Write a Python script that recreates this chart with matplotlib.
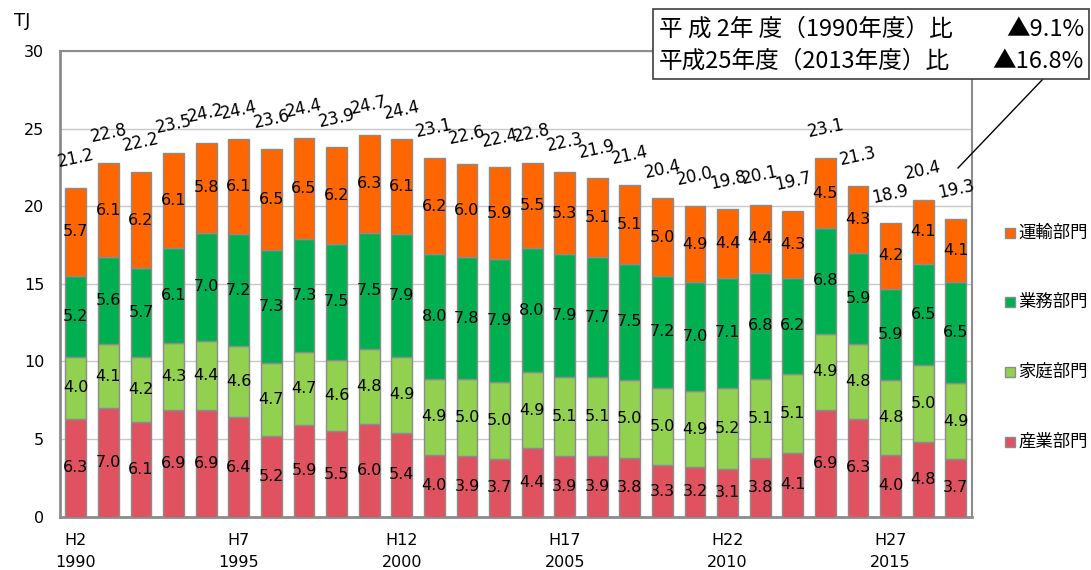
import matplotlib
matplotlib.use("Agg")
import matplotlib.pyplot as plt
import numpy as np

plt.rcParams['font.family'] = ['Noto Sans CJK JP', 'DejaVu Sans']

years = list(range(1990, 2018))
tick_heisei = ["H2", "H7", "H12", "H17", "H22", "H27"]
tick_years = ["1990", "1995", "2000", "2005", "2010", "2015"]

industry = [6.3, 7.0, 6.1, 6.9, 6.9, 6.4, 5.2, 5.9, 5.5, 6.0, 5.4, 4.0, 3.9, 3.7, 4.4, 3.9, 3.9, 3.8, 3.3, 3.2, 3.1, 3.8, 4.1, 6.9, 6.3, 4.0, 4.8, 3.7]
household = [4.0, 4.1, 4.2, 4.3, 4.4, 4.6, 4.7, 4.7, 4.6, 4.8, 4.9, 4.9, 5.0, 5.0, 4.9, 5.1, 5.1, 5.0, 5.0, 4.9, 5.2, 5.1, 5.1, 4.9, 4.8, 4.8, 5.0, 4.9]
business = [5.2, 5.6, 5.7, 6.1, 7.0, 7.2, 7.3, 7.3, 7.5, 7.5, 7.9, 8.0, 7.8, 7.9, 8.0, 7.9, 7.7, 7.5, 7.2, 7.0, 7.1, 6.8, 6.2, 6.8, 5.9, 5.9, 6.5, 6.5]
transport = [5.7, 6.1, 6.2, 6.1, 5.8, 6.1, 6.5, 6.5, 6.2, 6.3, 6.1, 6.2, 6.0, 5.9, 5.5, 5.3, 5.1, 5.1, 5.0, 4.9, 4.4, 4.4, 4.3, 4.5, 4.3, 4.2, 4.1, 4.1]
totals = [21.2, 22.8, 22.2, 23.5, 24.2, 24.4, 23.6, 24.4, 23.9, 24.7, 24.4, 23.1, 22.6, 22.4, 22.8, 22.3, 21.9, 21.4, 20.4, 20.0, 19.8, 20.1, 19.7, 23.1, 21.3, 18.9, 20.4, 19.3]

series = [
    ("産業部門", industry, "#E0525F"),
    ("家庭部門", household, "#92D050"),
    ("業務部門", business, "#00B050"),
    ("運輸部門", transport, "#FF6600"),
]

W, H = 1091, 570
fig = plt.figure(figsize=(10.91, 5.70), dpi=100)
ax = fig.add_axes([0.0546, 0.0935, 0.8364, 0.817])

x = np.arange(len(years))
bottom = np.zeros(len(years))
num_font = ['Liberation Sans Narrow', 'DejaVu Sans']
for name, vals, col in series:
    v = np.array(vals)
    ax.bar(x, v, width=0.64, bottom=bottom, color=col, edgecolor="#8C8C8C",
           linewidth=1.0, zorder=3)
    for xi, b, val in zip(x, bottom, v):
        ax.text(xi, b + val / 2, f"{val:.1f}", ha="center", va="center",
                fontsize=11.5, family=num_font, zorder=4)
    bottom = bottom + v

for xi, top, tot in zip(x, bottom, totals):
    ax.text(xi, top + 1.9, f"{tot:.1f}", ha="center", va="center",
            fontsize=12, family=num_font, rotation=12, zorder=4)

ax.set_xlim(-0.5, len(years) - 0.5)
ax.set_ylim(0, 30)
ax.set_yticks(range(0, 31, 5))
ax.yaxis.grid(True, color="#C8C8C8", linewidth=1.0, zorder=0)
ax.set_axisbelow(True)
for s in ax.spines.values():
    s.set_color("#8C8C8C")
    s.set_linewidth(1.5)
ax.spines['left'].set_linewidth(2)
ax.spines['bottom'].set_linewidth(2)
ax.tick_params(axis='y', length=0, labelsize=11.5, pad=11)
ax.tick_params(axis='x', length=0, labelsize=11.5, pad=12)
tick_pos = [0, 5, 10, 15, 20, 25]
ax.set_xticks(tick_pos)
ax.set_xticklabels([f"{h}\n{y}" for h, y in zip(tick_heisei, tick_years)],
                   linespacing=1.55)
for lbl in ax.get_yticklabels() + ax.get_xticklabels():
    lbl.set_family(['DejaVu Sans'])

fig.text(0.013, 0.963, "TJ", fontsize=13, ha="left", va="center",
         family=['DejaVu Sans'])

# legend (top to bottom: 運輸, 業務, 家庭, 産業)
leg_y = [233, 302, 372, 442]
for (name, _, col), yy in zip(series[::-1], leg_y):
    fig.patches.append(plt.Rectangle((1005 / W, 1 - (yy + 5) / H), 10 / W, 10 / H,
                                     transform=fig.transFigure, facecolor=col,
                                     edgecolor="#8C8C8C", linewidth=1.0))
    fig.text(1018 / W, 1 - yy / H, name, fontsize=12.5, ha="left", va="center")

# annotation box
box_l, box_r, box_t, box_b = 653, 1089, 9, 79
fig.patches.append(plt.Rectangle((box_l / W, 1 - box_b / H), (box_r - box_l) / W,
                                 (box_b - box_t) / H, transform=fig.transFigure,
                                 facecolor="white", edgecolor="#404040", linewidth=1.2,
                                 zorder=10))
fs = 17
fig.text(659 / W, 1 - 29 / H, "平 成 2年 度（1990年度）比", fontsize=fs,
         ha="left", va="center", zorder=11)
fig.text(1084 / W, 1 - 29 / H, "▲9.1%", fontsize=fs, ha="right", va="center", zorder=11)
fig.text(659 / W, 1 - 61 / H, "平成25年度（2013年度）比", fontsize=fs,
         ha="left", va="center", zorder=11)
fig.text(1084 / W, 1 - 61 / H, "▲16.8%", fontsize=fs, ha="right", va="center", zorder=11)
fig.add_artist(plt.Line2D([1043 / W, 958 / W], [1 - 79 / H, 1 - 168 / H],
                          transform=fig.transFigure, color="black", linewidth=1.0))

fig.savefig("out.png", dpi=100)
